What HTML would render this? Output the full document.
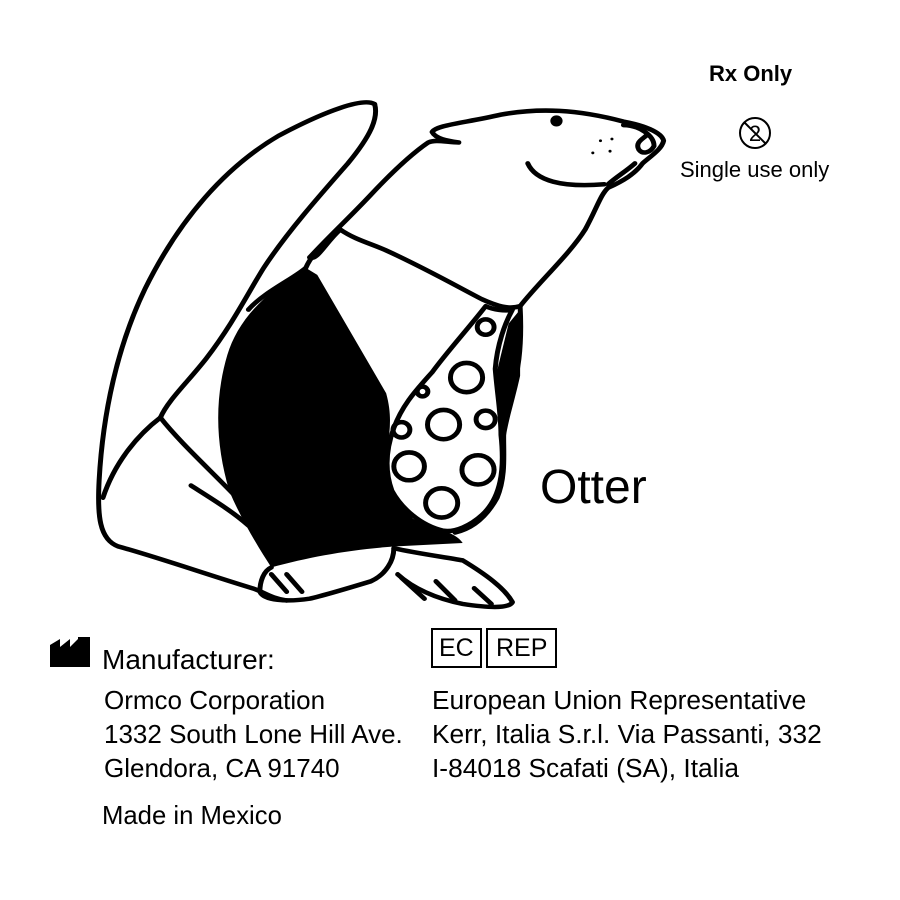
<!DOCTYPE html>
<html><head><style>
body{margin:0;background:#fff;width:900px;height:900px;overflow:hidden;position:relative;font-family:"Liberation Sans",Arial,sans-serif;color:#000}
.t{position:absolute;white-space:nowrap}
</style></head><body>
<svg width="900" height="900" style="position:absolute;left:0;top:0">
<g transform="translate(0,7) scale(1,0.91)">
<g transform="translate(80,80) scale(0.3827)" fill="none" stroke="#000" stroke-width="13" stroke-linejoin="round" stroke-linecap="round">
<!-- black vest -->
<path fill="#000" stroke="none" d="M590 540 L620 560 L800 900 C815 960 810 1000 805 1050 C800 1120 810 1180 870 1260 C920 1290 980 1295 1000 1330 L820 1340 C700 1350 600 1370 500 1400 C470 1350 420 1260 390 1180 C355 1050 350 920 385 790 C410 700 470 620 590 540Z"/>
<path fill="#000" stroke="none" d="M1080 880 L1120 700 L1150 660 L1150 850 C1130 950 1110 1000 1105 1100 L1080 1050Z"/>
<!-- tail + outer silhouette -->
<path d="M770 70 C740 50 640 90 520 160 C380 250 260 400 170 600 C100 760 60 950 50 1150 C45 1250 50 1320 100 1340 C200 1370 330 1420 450 1460 C480 1470 500 1490 540 1495"/>
<!-- tail right edge -->
<path d="M770 70 C780 110 760 160 700 240 C620 340 540 440 480 540 C440 610 400 700 330 800 C280 870 230 920 210 970"/>
<!-- left body line -->
<path d="M210 970 C260 1040 340 1120 410 1200 C440 1240 460 1280 470 1320"/>
<path d="M290 1165 C340 1200 400 1240 440 1280"/>
<path d="M210 970 C150 1020 90 1100 60 1200"/>
<!-- head & neck back -->
<path d="M600 510 C650 450 700 400 760 330 C820 260 870 210 910 180 C930 170 960 180 990 180 C960 175 930 170 920 150 C930 130 1000 125 1100 100 C1200 80 1300 85 1420 120 C1470 130 1520 150 1525 175 C1520 200 1490 220 1470 240 C1450 270 1420 290 1380 310 C1360 330 1350 370 1320 430 C1280 500 1200 580 1150 650"/>
<!-- nose details -->
<path d="M1420 130 C1460 130 1500 160 1500 190 C1490 210 1470 215 1460 200 C1450 180 1470 170 1480 160"/>
<path d="M1450 240 C1430 260 1400 280 1380 300"/>
<path d="M1170 240 C1190 290 1260 310 1370 300"/>
<circle cx="1245" cy="118" r="16" fill="#000" stroke="none"/>
<g fill="#000" stroke="none"><circle cx="1360" cy="175" r="4"/><circle cx="1390" cy="170" r="4"/><circle cx="1340" cy="210" r="4"/><circle cx="1385" cy="205" r="4"/></g>
<!-- collar -->
<path d="M600 510 C620 520 640 470 680 430 C720 460 760 470 800 490 C900 540 980 590 1050 630 C1090 650 1120 660 1150 650"/>
<path d="M680 430 C650 460 610 490 590 540 C560 570 480 610 440 660"/>
<!-- right body edge -->
<path d="M1150 650 C1155 750 1150 850 1110 960 C1100 1040 1120 1120 1090 1200 C1060 1260 1020 1290 980 1300"/>
<!-- tie -->
<path fill="#fff" d="M1060 650 C1080 660 1110 665 1130 660 C1110 700 1090 760 1085 830 C1090 900 1100 960 1100 1020 C1110 1120 1100 1200 1050 1250 C1020 1280 980 1300 950 1295 C890 1280 840 1230 815 1180 C795 1120 800 1060 820 1000 C840 940 870 900 920 840 C960 780 1010 720 1060 650Z"/>
<circle cx="1010" cy="855" r="42"/><circle cx="950" cy="990" r="42"/><circle cx="1040" cy="1120" r="42"/>
<circle cx="860" cy="1110" r="40"/><circle cx="945" cy="1215" r="42"/><circle cx="1060" cy="975" r="25"/>
<circle cx="1060" cy="710" r="22"/><circle cx="840" cy="1005" r="22"/><circle cx="895" cy="895" r="14"/>
<!-- left foot -->
<path d="M500 1400 C480 1410 470 1440 470 1470 C480 1495 540 1500 600 1490 C640 1480 700 1460 760 1440 C800 1420 820 1380 820 1345"/>
<path d="M500 1420 L540 1470 M540 1420 L580 1470"/>
<!-- right foot -->
<path d="M820 1345 C880 1360 950 1370 1000 1380 C1060 1420 1110 1460 1130 1500 C1120 1520 1060 1515 1000 1505 C930 1490 870 1460 830 1420"/>
<path d="M840 1430 L900 1490 M930 1440 L980 1495 M1030 1460 L1075 1505"/>
</g>
</g>
</svg>
<div class="t" style="left:709px;top:61px;font-size:22px;font-weight:bold">Rx Only</div>
<svg width="40" height="40" style="position:absolute;left:735px;top:113px"><circle cx="20" cy="20" r="15" fill="none" stroke="#000" stroke-width="2"/><line x1="9" y1="9" x2="31" y2="31" stroke="#000" stroke-width="2"/><text x="20" y="28" font-size="22" text-anchor="middle" font-family="Liberation Sans">2</text></svg>
<div class="t" style="left:680px;top:157px;font-size:22px">Single use only</div>
<div class="t" style="left:540px;top:460px;font-size:48px">Otter</div>
<svg width="42" height="30" style="position:absolute;left:50px;top:637px"><path d="M0 30 V8 L10 2 V10 L20 2 V10 L28 2 V0 H40 V30Z" fill="#000"/></svg>
<div class="t" style="left:102px;top:644px;font-size:28px">Manufacturer:</div>
<div class="t" style="left:431px;top:628px;font-size:25px;border:2px solid #000;padding:2px 6px;line-height:32px">EC</div>
<div class="t" style="left:486px;top:628px;font-size:25px;border:2px solid #000;padding:2px 8px;line-height:32px">REP</div>
<div class="t" style="left:104px;top:683px;font-size:26px;line-height:34px">Ormco Corporation<br>1332 South Lone Hill Ave.<br>Glendora, CA 91740</div>
<div class="t" style="left:432px;top:683px;font-size:26.3px;line-height:34px">European Union Representative<br>Kerr, Italia S.r.l. Via Passanti, 332<br>I-84018 Scafati (SA), Italia</div>
<div class="t" style="left:102px;top:802px;font-size:25.7px">Made in Mexico</div>
</body></html>
